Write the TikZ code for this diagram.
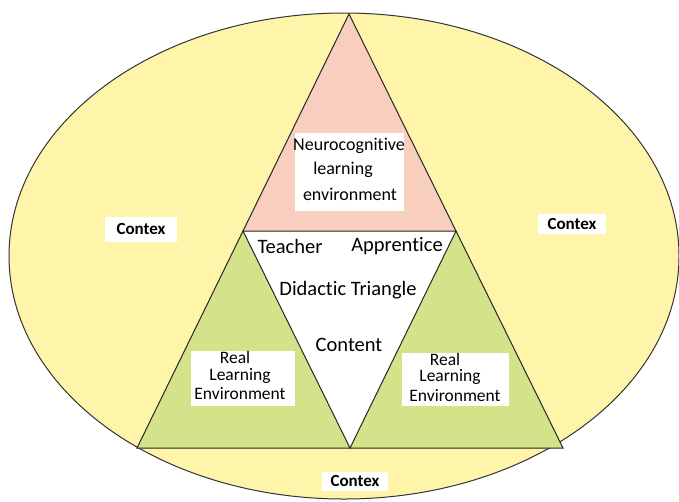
\documentclass[tikz,border=0pt]{standalone}
\usepackage{fontspec}
\setmainfont[Ligatures={NoCommon}]{Carlito}
\begin{document}
\begin{tikzpicture}[x=1pt,y=-1pt,
  tri/.style={draw=black!85,line width=1pt,line join=miter},
  lbl/.style={font=\fontsize{17.5}{19}\selectfont,inner sep=0pt},
  big/.style={lbl,font=\fontsize{20.5}{22}\selectfont},
  tight/.style={text height=11pt,text depth=0pt},
  ctxlbl/.style={fill=white,font=\bfseries\fontsize{17}{19}\selectfont,inner xsep=5pt,inner ysep=3pt}]
\definecolor{ctxyellow}{RGB}{255,245,170}
\definecolor{neuropink}{RGB}{248,206,190}
\definecolor{realgreen}{RGB}{212,226,138}
\useasboundingbox (0,0) rectangle (679,501);
% context ellipse
\draw[fill=ctxyellow,draw=black!80,line width=1pt] (344,256) ellipse [x radius=335, y radius=243];
% corner points of the subdivided triangle
\coordinate (apex) at (349,14);
\coordinate (ml) at (243,231);
\coordinate (mr) at (456,231);
\coordinate (bl) at (137,448);
\coordinate (bm) at (350,448);
\coordinate (br) at (563,448);
\fill[neuropink] (apex) -- (ml) -- (mr) -- cycle;
\fill[realgreen] (ml) -- (bl) -- (bm) -- cycle;
\fill[realgreen] (mr) -- (bm) -- (br) -- cycle;
\fill[white] (ml) -- (mr) -- (bm) -- cycle;
\draw[tri] (apex) -- (bl) -- (br) -- cycle;
\draw[tri] (ml) -- (mr) -- (bm) -- cycle;
% white label boxes
\fill[white] (295,133) rectangle (404,211);
\fill[white] (191,351) rectangle (295,406);
\fill[white] (402,353) rectangle (509,406);
% neurocognitive environment
\node[lbl,font=\fontsize{18}{20}\selectfont] (n1) at (349,146) {Neurocognitive};
\node[lbl,font=\fontsize{18}{20}\selectfont] (n2) at (343,170) {learning};
\node[lbl,font=\fontsize{18}{20}\selectfont] (n3) at (350,194) {environment};
% didactic triangle
\node[big] (teacher) at (290,246) {Teacher};
\node[big] (apprentice) at (397,246) {Apprentice};
\node[big] (didactic) at (348,290) {Didactic Triangle};
\node[big] (content) at (349,345) {Content};
% real learning environments (lines set close together)
\node[lbl,tight] (l1) at (235,358) {Real};
\node[lbl,tight] (l2) at (240,375) {Learning};
\node[lbl] (l3) at (240,394) {Environment};
\node[lbl,tight] (r1) at (445,360) {Real};
\node[lbl,tight] (r2) at (450,376) {Learning};
\node[lbl] (r3) at (455,396) {Environment};
% context labels
\node[ctxlbl,minimum width=72pt,minimum height=25pt] (cl) at (141,229) {Contex};
\node[ctxlbl,minimum width=68pt,minimum height=20pt] (cr) at (572,224) {Contex};
\node[ctxlbl,minimum width=66pt,minimum height=19pt] (cb) at (355,481) {Contex};
\end{tikzpicture}
\end{document}
